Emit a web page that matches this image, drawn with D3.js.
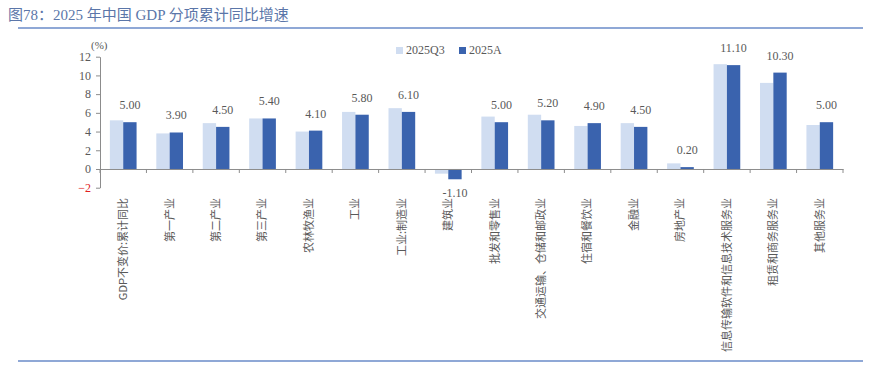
<!DOCTYPE html>
<html>
<head>
<meta charset="utf-8">
<script src="https://cdn.jsdelivr.net/npm/d3@7"></script>
<style>
  body { margin: 0; background: #fff; }
  svg { display: block; }
</style>
</head>
<body>
<div id="chart"></div>
<script>
const categories = ['GDP不变价:累计同比', '第一产业', '第二产业', '第三产业', '农林牧渔业', '工业', '工业:制造业', '建筑业',
    '批发和零售业', '交通运输、仓储和邮政业', '住宿和餐饮业', '金融业', '房地产业', '信息传输软件和信息技术服务业', '租赁和商务服务业', '其他服务业'];
const seriesNames = ['2025Q3', '2025A'];
const q3Values = [5.2, 3.8, 4.9, 5.4, 4.0, 6.1, 6.5, -0.5, 5.6, 5.8, 4.6, 4.9, 0.6, 11.2, 9.2, 4.7];
const annualValues = [5.0, 3.9, 4.5, 5.4, 4.1, 5.8, 6.1, -1.1, 5.0, 5.2, 4.9, 4.5, 0.2, 11.1, 10.3, 5.0];
const yTicks = [-2, 0, 2, 4, 6, 8, 10, 12];

const width = 876, height = 368;
const colors = ['#d0ddf1', '#3a63ae'];
const serif = '"Liberation Serif", "Noto Sans CJK SC", serif';
const cjk = '"Noto Sans CJK SC", sans-serif';

const svg = d3.select('#chart').append('svg')
    .attr('width', width)
    .attr('height', height);

// title + rules
svg.append('text')
    .attr('x', 8).attr('y', 20)
    .attr('fill', '#5b76a9')
    .style('font-family', serif)
    .style('font-size', '15px')
    .text('图78：2025 年中国 GDP 分项累计同比增速');

svg.append('line')
    .attr('x1', 18).attr('x2', 863).attr('y1', 28).attr('y2', 28)
    .attr('stroke', '#6a8bc8').attr('stroke-width', 1.5);
svg.append('line')
    .attr('x1', 18).attr('x2', 863).attr('y1', 361).attr('y2', 361)
    .attr('stroke', '#6a8bc8').attr('stroke-width', 1.5);

const x0 = d3.scaleBand()
    .domain(categories)
    .range([100, 843]);

const x1 = d3.scaleBand()
    .domain(seriesNames)
    .range([0, x0.bandwidth() * 0.575]);

const y = d3.scaleLinear()
    .domain([-2, 12])
    .range([187.7, 56.7]);

// y axis
const yAxis = svg.append('g')
    .attr('transform', 'translate(100,0)')
    .call(d3.axisLeft(y).tickValues(yTicks).tickSize(4).tickSizeOuter(0));
yAxis.select('.domain').attr('stroke', '#8c8c8c');
yAxis.selectAll('.tick line').attr('stroke', '#8c8c8c');
yAxis.selectAll('.tick text')
    .attr('x', -9)
    .attr('fill', d => d < 0 ? '#e02020' : '#595959')
    .style('font-family', serif)
    .style('font-size', '12px');

svg.append('text')
    .attr('x', 91).attr('y', 49)
    .attr('fill', '#595959')
    .style('font-family', serif)
    .style('font-size', '11px')
    .text('(%)');

// bars
const groups = svg.append('g')
    .selectAll('g')
    .data(categories)
    .join('g')
    .attr('transform', d => `translate(${x0(d) + x0.bandwidth() * 0.2125},0)`);

groups.selectAll('rect')
    .data((d, i) => [q3Values[i], annualValues[i]].map((v, k) => ({ key: seriesNames[k], value: v })))
    .join('rect')
    .attr('x', d => x1(d.key))
    .attr('width', x1.bandwidth())
    .attr('y', d => y(Math.max(0, d.value)))
    .attr('height', d => Math.abs(y(d.value) - y(0)))
    .attr('fill', (d, k) => colors[k]);

// value labels for 2025A
groups.append('text')
    .attr('x', x1('2025A') + x1.bandwidth() / 2)
    .attr('y', (d, i) => annualValues[i] >= 0 ? y(annualValues[i]) - 13 : y(annualValues[i]) + 18)
    .attr('text-anchor', 'middle')
    .attr('fill', '#595959')
    .style('font-family', serif)
    .style('font-size', '12px')
    .text((d, i) => annualValues[i].toFixed(2));

// x axis at zero
const xAxis = svg.append('g')
    .attr('transform', `translate(0,${y(0)})`)
    .call(d3.axisBottom(x0).tickSize(0).tickSizeOuter(0).tickFormat(''));
xAxis.select('.domain').attr('stroke', '#8c8c8c');
xAxis.selectAll('.sep')
    .data(d3.range(categories.length + 1))
    .join('line')
    .attr('class', 'sep')
    .attr('x1', i => 100 + i * x0.step())
    .attr('x2', i => 100 + i * x0.step())
    .attr('y1', 0).attr('y2', 4)
    .attr('stroke', '#8c8c8c');

// category labels (rotated)
svg.append('g')
    .selectAll('text')
    .data(categories)
    .join('text')
    .attr('transform', d => `translate(${x0(d) + x0.bandwidth() / 2},198) rotate(-90)`)
    .attr('text-anchor', 'end')
    .attr('dy', '0.35em')
    .attr('fill', '#595959')
    .style('font-family', cjk)
    .style('font-size', '11px')
    .text(d => d);

// legend
const legend = svg.append('g')
    .selectAll('g')
    .data(seriesNames)
    .join('g')
    .attr('transform', (d, i) => `translate(${396 + i * 63},47)`);
legend.append('rect')
    .attr('width', 7).attr('height', 7)
    .attr('fill', (d, i) => colors[i]);
legend.append('text')
    .attr('x', 10).attr('y', 7)
    .attr('fill', '#595959')
    .style('font-family', serif)
    .style('font-size', '12px')
    .text(d => d);
</script>
</body>
</html>
